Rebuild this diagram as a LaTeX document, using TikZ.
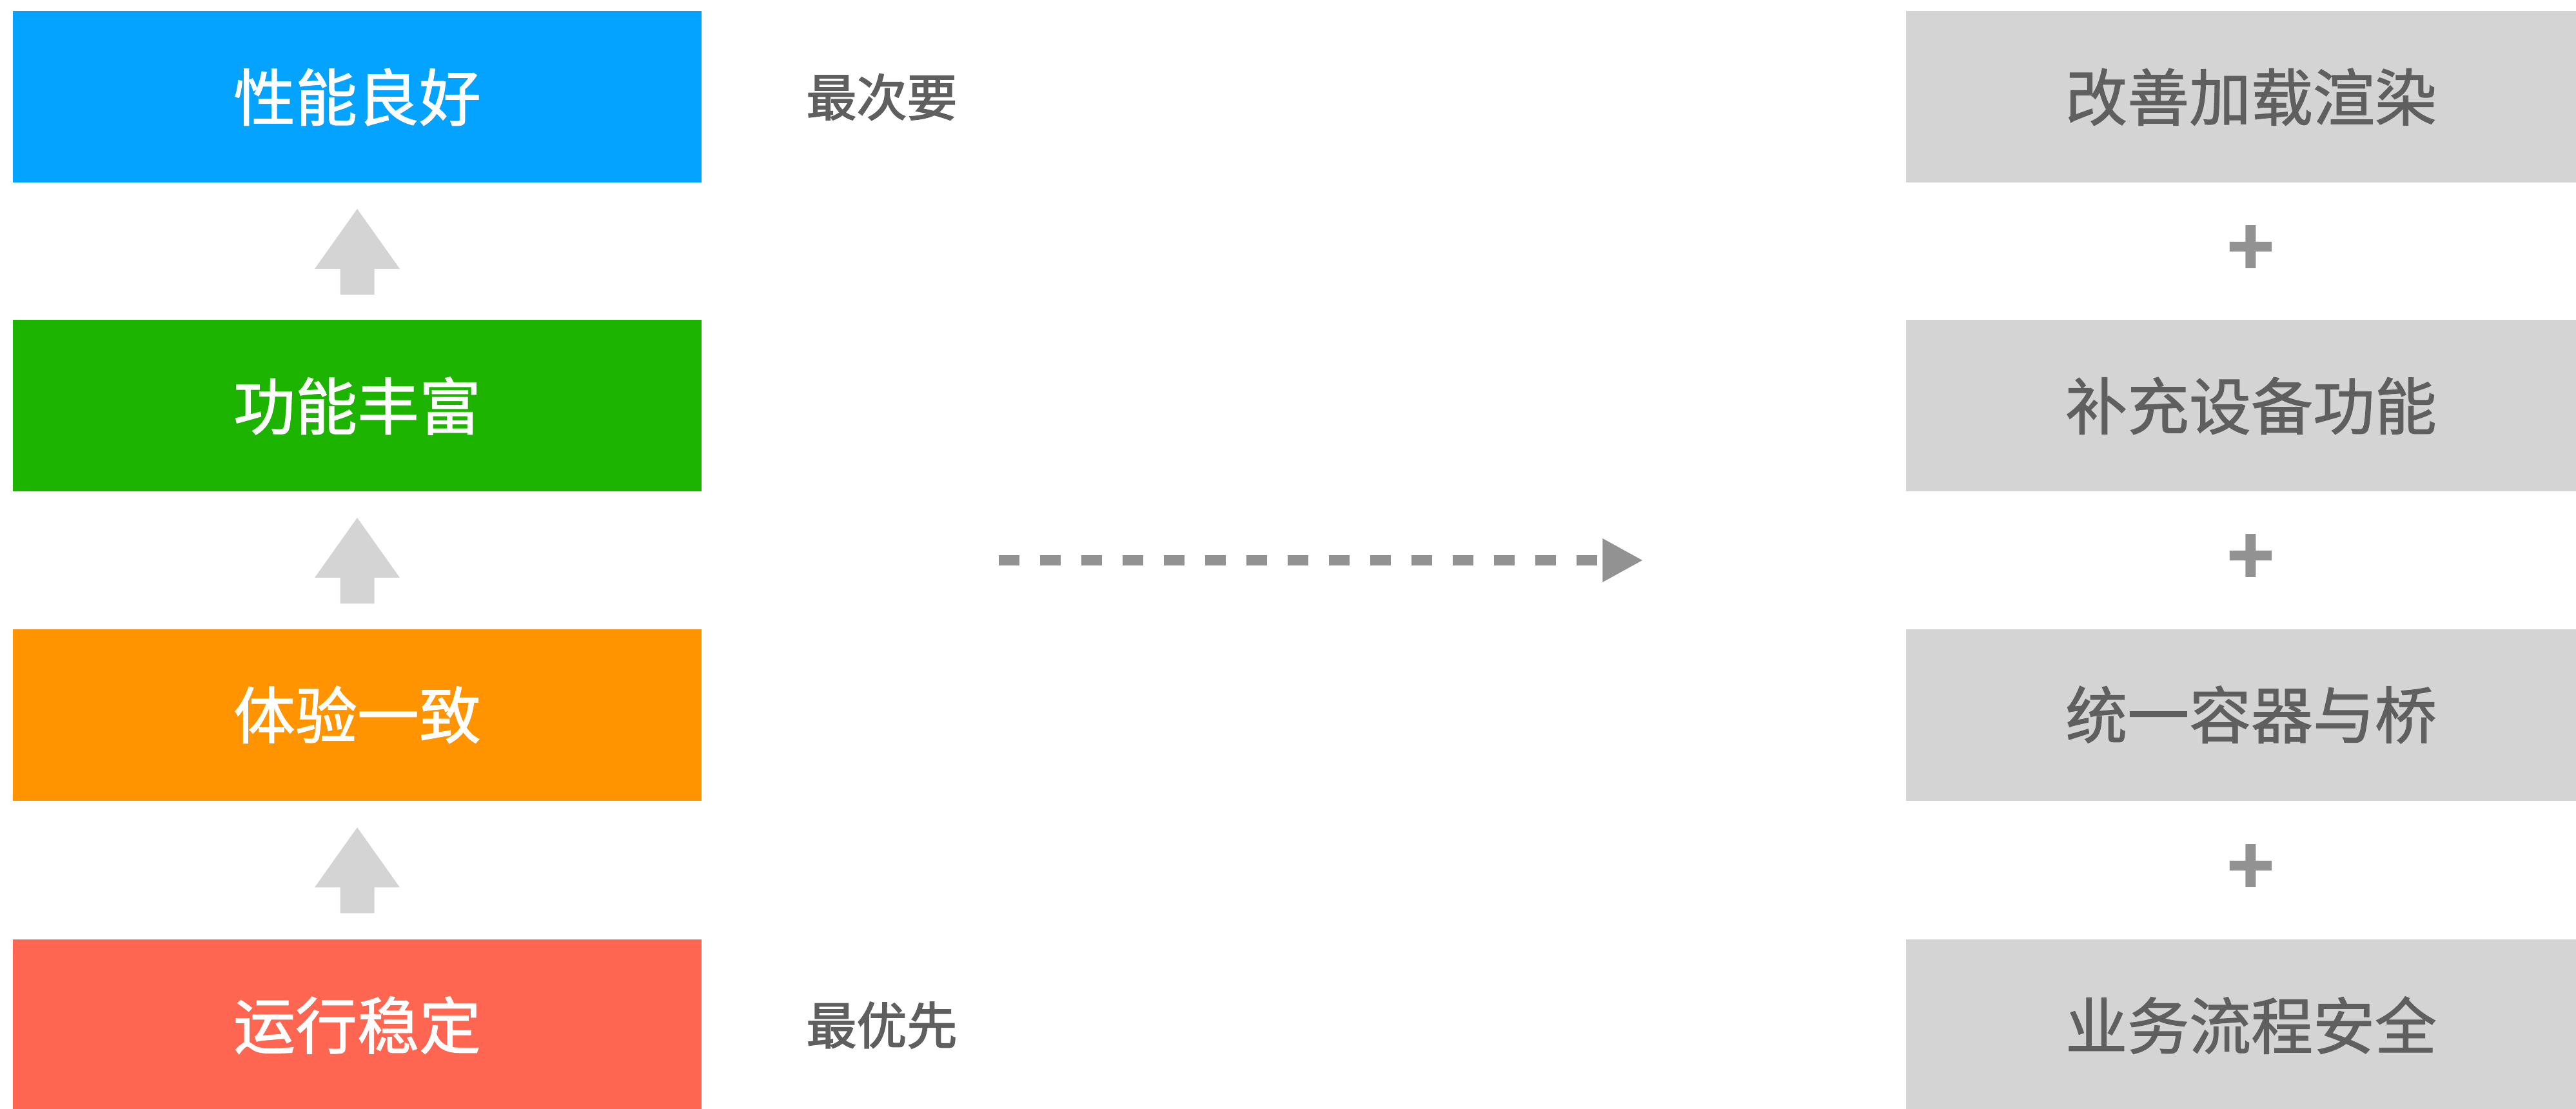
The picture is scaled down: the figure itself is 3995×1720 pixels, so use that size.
\documentclass[tikz,border=0pt]{standalone}
\usepackage{fontspec}
\newfontfamily\cjk{Noto Sans CJK SC}
\newfontfamily\cjkmid[FakeBold=1.2]{Noto Sans CJK SC}
\newfontfamily\cjkheavy[FakeBold=2.2]{Noto Sans CJK SC}
\usetikzlibrary{positioning, arrows.meta, calc}

\definecolor{perfblue}{HTML}{03A3FF}
\definecolor{funcgreen}{HTML}{1DB400}
\definecolor{uxorange}{HTML}{FF9400}
\definecolor{runred}{HTML}{FF6651}
\definecolor{boxgray}{HTML}{D4D4D4}
\definecolor{textgray}{HTML}{5F5F5F}
\definecolor{markgray}{HTML}{929292}

\tikzset{
  level/.style={minimum width=106.8mm, minimum height=26.6mm, inner sep=0, text=white, font=\cjkmid\fontsize{27.3}{30}\selectfont},
  goal/.style={fill=boxgray, minimum width=107mm, minimum height=26.6mm, inner sep=0, text=textgray, font=\cjkmid\fontsize{27.3}{30}\selectfont},
  note/.style={inner sep=0, text=textgray, font=\cjkheavy\fontsize{22.2}{25}\selectfont},
  plus/.style={inner sep=0, text=markgray, font=\cjk\bfseries\fontsize{35}{38}\selectfont},
  flow/.style={markgray, line width=1.6mm, dash pattern=on 3.2mm off 3.2mm, -{Triangle[length=6.3mm, width=6.3mm]}}
}

\begin{document}
\begin{tikzpicture}[x=0.1mm, y=-0.1mm]
\useasboundingbox (0,0) rectangle (3995,1720);
% priority column
\node[level, fill=perfblue] (perf) at (554,150.5) {性能良好};
\node[level, fill=funcgreen] (func) at (554,629.5) {功能丰富};
\node[level, fill=uxorange] (ux) at (554,1108.5) {体验一致};
\node[level, fill=runred] (run) at (554,1590) {运行稳定};
\node[note, right=16.1mm of perf] (least) {最次要};
\node[note, right=16.1mm of run] (first) {最优先};
\foreach \lo/\hi in {func/perf, ux/func, run/ux}
  \fill[boxgray, shift={($(\lo.north)!.5!(\hi.south)$)}] (0,-66) -- (66,27) -- (26.5,27) -- (26.5,67) -- (-26.5,67) -- (-26.5,27) -- (-66,27) -- cycle;
% measures column
\node[goal] (render) at (3491,150.5) {改善加载渲染};
\node[goal] (device) at (3491,629.5) {补充设备功能};
\node[goal] (bridge) at (3491,1108.5) {统一容器与桥};
\node[goal] (safe) at (3491,1590) {业务流程安全};
\foreach \hi/\lo in {render/device, device/bridge, bridge/safe}
  \node[plus] at ($(\hi.south)!.5!(\lo.north)$) {+};
% mapping
\coordinate (from) at ([xshift=46mm]$(func.east)!.5!(ux.east)$);
\coordinate (to) at ([xshift=-40.7mm]$(device.west)!.5!(bridge.west)$);
\draw[flow] (from) -- (to);
\end{tikzpicture}
\end{document}
